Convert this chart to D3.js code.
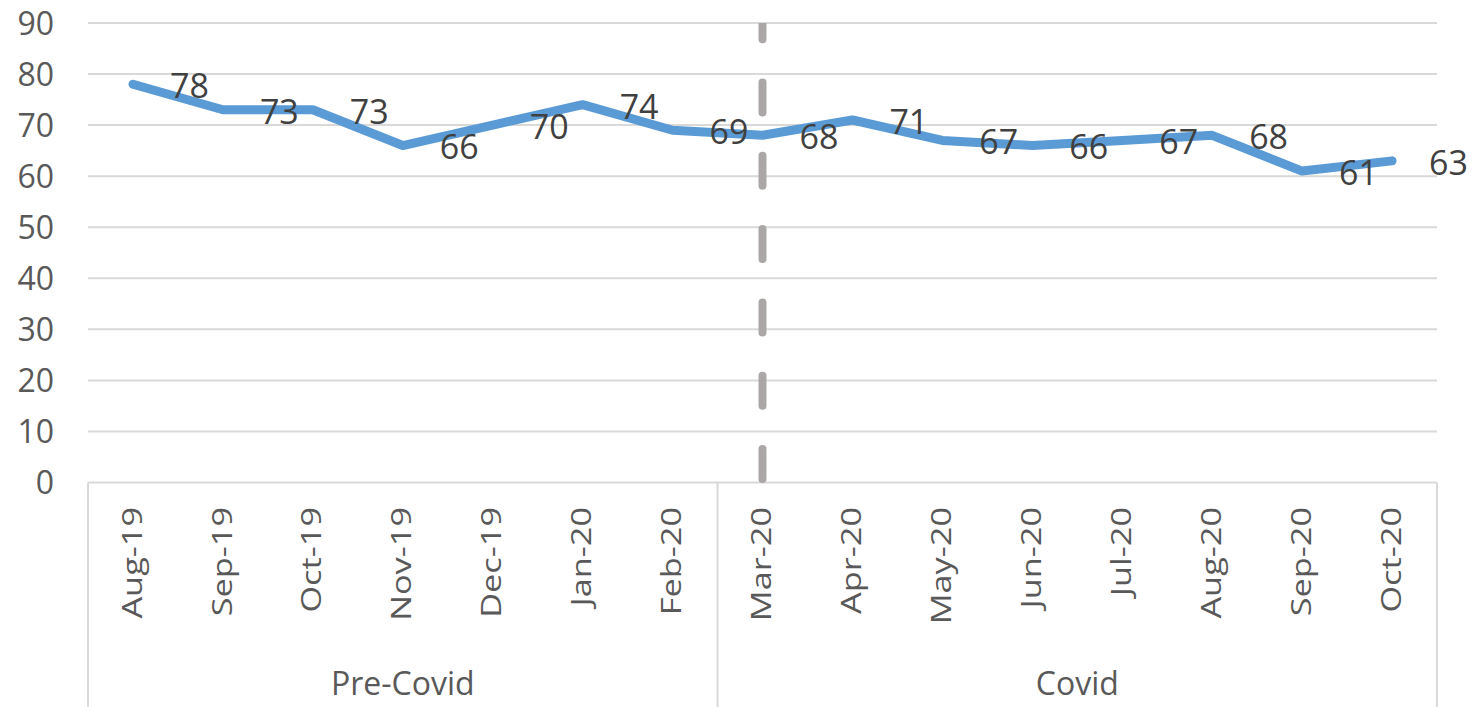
<!DOCTYPE html>
<html>
<head>
<meta charset="utf-8">
<script src="https://cdn.jsdelivr.net/npm/d3@7/dist/d3.min.js"></script>
<style>
  html, body { margin: 0; padding: 0; background: #fff; }
  svg { display: block; }
  text { font-family: "Open Sans", sans-serif; }
</style>
</head>
<body>
<svg id="chart" width="1477" height="707"></svg>
<script>
const months = ["Aug-19","Sep-19","Oct-19","Nov-19","Dec-19","Jan-20","Feb-20",
                "Mar-20","Apr-20","May-20","Jun-20","Jul-20","Aug-20","Sep-20","Oct-20"];
const values = [78,73,73,66,70,74,69,68,71,67,66,67,68,61,63];
const groupNames = ["Pre-Covid","Covid"];
const groupStarts = [0,7];
const groupCounts = [7,8];
const yTicks = [0,10,20,30,40,50,60,70,80,90];
const markerMonth = "Mar-20";

(function () {
const svg = d3.select("#chart");
const W = 1477, H = 707;
const pLeft = 88, pRight = 1437, pTop = 23, pBottom = 482.5;

const x = d3.scaleBand().domain(months).range([pLeft, pRight]).paddingInner(0).paddingOuter(0);
const y = d3.scaleLinear().domain([0, 90]).range([pBottom, pTop]);
const cx = m => x(m) + x.bandwidth() / 2;

const gridColor = "#d9d9d9";
const textColor = "#595959";

// gridlines
svg.append("g").selectAll("line").data(yTicks.filter(t => t > 0)).join("line")
  .attr("x1", pLeft).attr("x2", pRight)
  .attr("y1", d => y(d)).attr("y2", d => y(d))
  .attr("stroke", gridColor).attr("stroke-width", 2);

// y axis labels
const yAxis = d3.axisLeft(y).tickValues(yTicks).tickSize(0).tickPadding(0);
const gy = svg.append("g").attr("transform", `translate(54,0)`).call(yAxis);
gy.select(".domain").remove();
gy.selectAll("text")
  .attr("font-family", "Open Sans, sans-serif")
  .attr("font-size", 32).attr("fill", textColor).attr("dy", "0.35em");

// x axis baseline and group boxes
svg.append("line").attr("x1", pLeft).attr("x2", pRight).attr("y1", pBottom).attr("y2", pBottom)
  .attr("stroke", gridColor).attr("stroke-width", 2);
const dividers = [pLeft].concat(groupStarts.slice(1).map(i => x(months[i])), [pRight]);
svg.append("g").selectAll("line").data(dividers).join("line")
  .attr("x1", d => d).attr("x2", d => d)
  .attr("y1", pBottom).attr("y2", H)
  .attr("stroke", gridColor).attr("stroke-width", 2);

// month labels (rotated)
svg.append("g").selectAll("text").data(months).join("text")
  .attr("transform", d => `translate(${cx(d)},507) rotate(-90) scale(1.27,1)`)
  .attr("text-anchor", "end")
  .attr("dy", "0.32em")
  .attr("font-size", 27)
  .attr("fill", textColor)
  .text(d => d);

// group labels
svg.append("g").selectAll("text").data(groupNames).join("text")
  .attr("x", (d, i) => {
    const a = x(months[groupStarts[i]]);
    const b = x(months[groupStarts[i] + groupCounts[i] - 1]) + x.bandwidth();
    return (a + b) / 2;
  })
  .attr("y", 695)
  .attr("text-anchor", "middle")
  .attr("font-size", 32)
  .attr("fill", textColor)
  .text(d => d);

// dashed vertical marker
svg.append("clipPath").attr("id", "plotclip").append("rect")
  .attr("x", 0).attr("y", pTop).attr("width", W).attr("height", pBottom - pTop + 0.5);
svg.append("line")
  .attr("clip-path", "url(#plotclip)")
  .attr("x1", cx(markerMonth)).attr("x2", cx(markerMonth))
  .attr("y1", y(0)).attr("y2", y(90) - 40)
  .attr("stroke", "#aba7a7").attr("stroke-width", 8)
  .attr("stroke-linecap", "round")
  .attr("stroke-dasharray", "30 43.3")
  .attr("stroke-dashoffset", -3.5);

// line
const line = d3.line().x((d, i) => cx(months[i])).y(d => y(d));
svg.append("path").datum(values)
  .attr("d", line)
  .attr("fill", "none")
  .attr("stroke", "#5b9bd5")
  .attr("stroke-width", 9)
  .attr("stroke-linejoin", "round")
  .attr("stroke-linecap", "round");

// data labels
svg.append("g").selectAll("text").data(values).join("text")
  .attr("x", (d, i) => cx(months[i]) + 37)
  .attr("y", d => y(d) + 2)
  .attr("dy", "0.35em")
  .attr("font-size", 34)
  .attr("fill", "#404040")
  .text(d => d);
})();
</script>
</body>
</html>
